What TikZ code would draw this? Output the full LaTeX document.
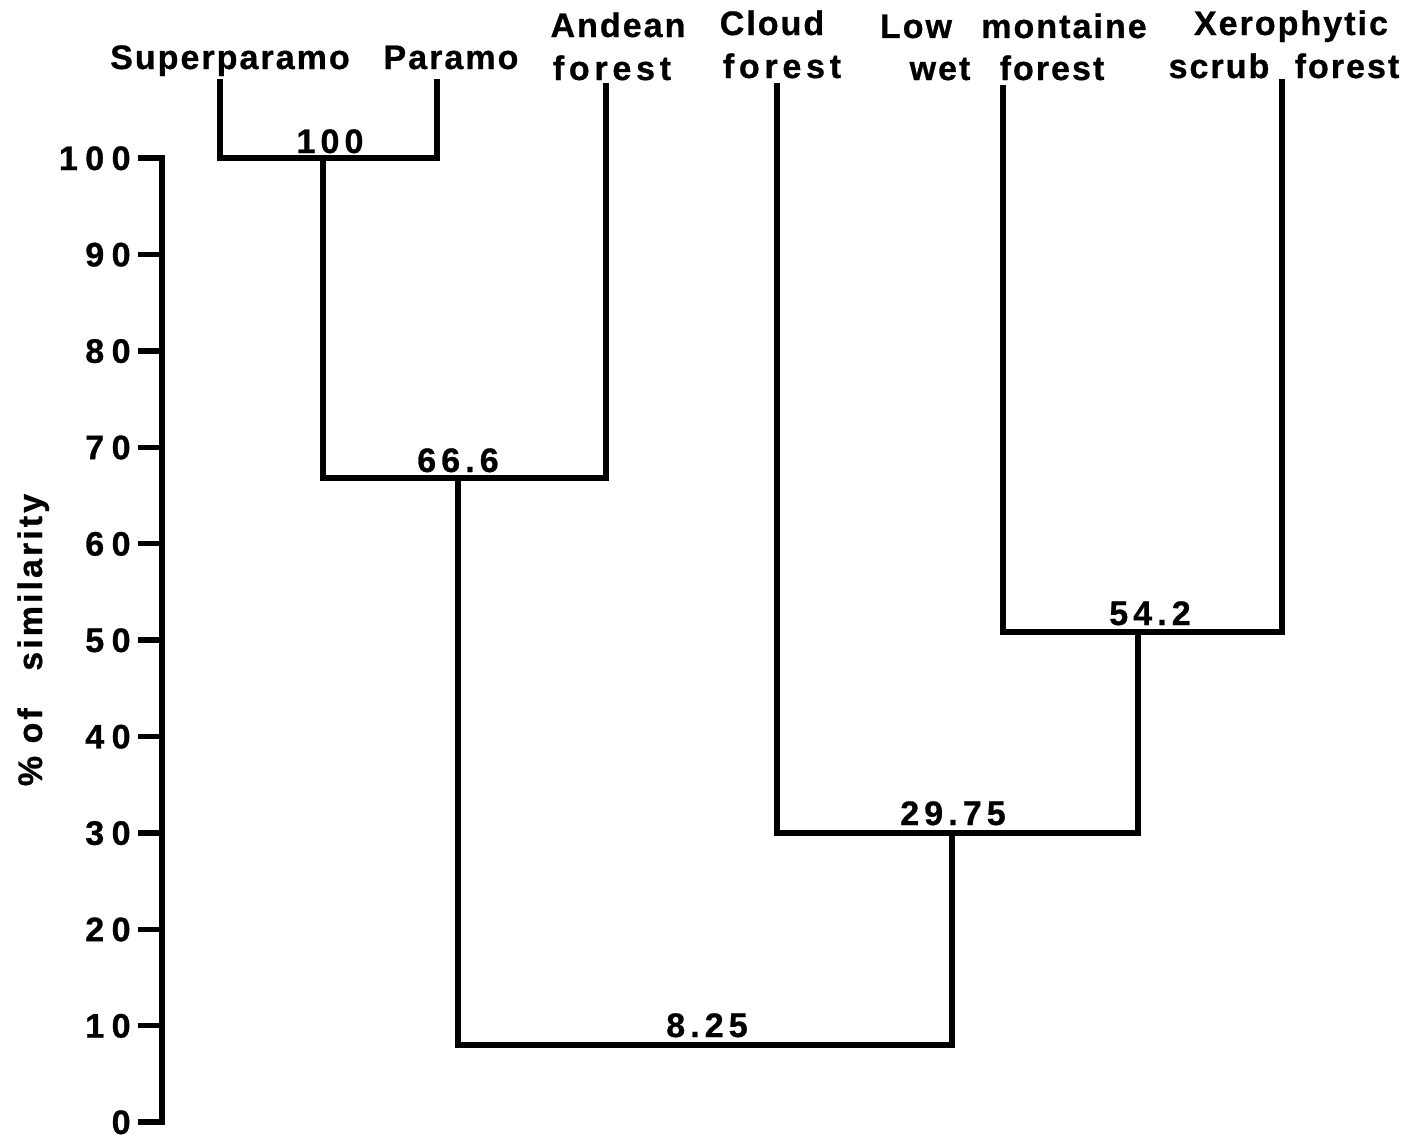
\documentclass[tikz,border=0pt]{standalone}
\usepackage{fontspec}
\setmainfont{Liberation Sans}
\begin{document}
\begin{tikzpicture}[x=0.5pt,y=-0.5pt,
  ln/.style={line width=2.7pt, line join=miter, line cap=rect},
  lbl/.style={inner sep=0pt, anchor=base, font=\bfseries\fontsize{17}{19}\selectfont\addfontfeatures{LetterSpace=6,FakeBold=0.8}},
  spread/.style={inner sep=0pt, anchor=base, font=\bfseries\fontsize{17}{19}\selectfont\addfontfeatures{LetterSpace=14,FakeBold=0.8}},
  num/.style={inner sep=0pt, anchor=base, font=\bfseries\fontsize{17}{19}\selectfont\addfontfeatures{LetterSpace=15,FakeBold=0.8}},
  ticklbl/.style={inner sep=0pt, anchor=base east, font=\bfseries\fontsize{17}{19}\selectfont\addfontfeatures{LetterSpace=22,FakeBold=0.8}},
  axlbl/.style={inner sep=0pt, anchor=base, rotate=90, font=\bfseries\fontsize{17}{19}\selectfont\addfontfeatures{LetterSpace=9,FakeBold=0.8}}
]
\useasboundingbox (0,0) rectangle (1424,1140);

% leaf labels
\node[lbl] (lsup) at (230,69) {Superparamo};
\node[lbl] (lpar) at (451,69) {Paramo};
\node[lbl] (land1) at (618,37) {Andean};
\node[spread] (land2) at (612,80) {forest};
\node[lbl] (lclo1) at (772,35) {Cloud};
\node[spread] (lclo2) at (782,78) {forest};
\node[lbl] (llow1) at (916,38) {Low};
\node[lbl] (llow2) at (940,80) {wet};
\node[lbl] (lmon1) at (1064,38) {montaine};
\node[lbl] (lmon2) at (1052,80) {forest};
\node[lbl] (lxer1) at (1291,35) {Xerophytic};
\node[lbl] (lxer2) at (1219,78) {scrub};
\node[lbl] (lxer3) at (1347,78) {forest};

% leaf tops
\coordinate (tsup) at (220,82);
\coordinate (tpar) at (437,82);
\coordinate (tand) at (606,86);
\coordinate (tclo) at (777,86);
\coordinate (tmon) at (1003,88);
\coordinate (txer) at (1282,82);

% join levels
\coordinate (j100l) at (220,158);
\coordinate (j100r) at (437,158);
\coordinate (j100) at (323,158);
\coordinate (j66l) at (323,478);
\coordinate (j66r) at (606,478);
\coordinate (j66) at (458,478);
\coordinate (j54l) at (1003,632);
\coordinate (j54r) at (1282,632);
\coordinate (j54) at (1138,632);
\coordinate (j29l) at (777,833);
\coordinate (j29r) at (1138,833);
\coordinate (j29) at (952,833);
\coordinate (j8l) at (458,1045);
\coordinate (j8r) at (952,1045);

% dendrogram
\draw[ln] (tsup) -- (j100l) -- (j100r) -- (tpar);
\draw[ln] (j100) -- (j66l) -- (j66r) -- (tand);
\draw[ln] (tmon) -- (j54l) -- (j54r) -- (txer);
\draw[ln] (tclo) -- (j29l) -- (j29r) -- (j54);
\draw[ln] (j66) -- (j8l) -- (j8r) -- (j29);

% cluster values
\node[num] (v100) at (330,153) {100};
\node[num] (v66) at (458,472) {66.6};
\node[num] (v54) at (1150,625) {54.2};
\node[num] (v29) at (953,825) {29.75};
\node[num] (v8) at (707,1037) {8.25};

% axis
\coordinate (atop) at (162,158);
\coordinate (abot) at (162,1122);
\draw[ln] (atop) -- (abot);
\foreach \v in {0,10,...,100}{
  \coordinate (t\v) at (162,{1122-9.64*\v});
  \draw[ln] (t\v) -- ++(-21,0);
  \node[ticklbl] (n\v) at (131,{1122-9.64*\v+12}) {\v};
}
\node[axlbl] (ylab) at (42,640) {\% of\ \ \ similarity};
\end{tikzpicture}
\end{document}
